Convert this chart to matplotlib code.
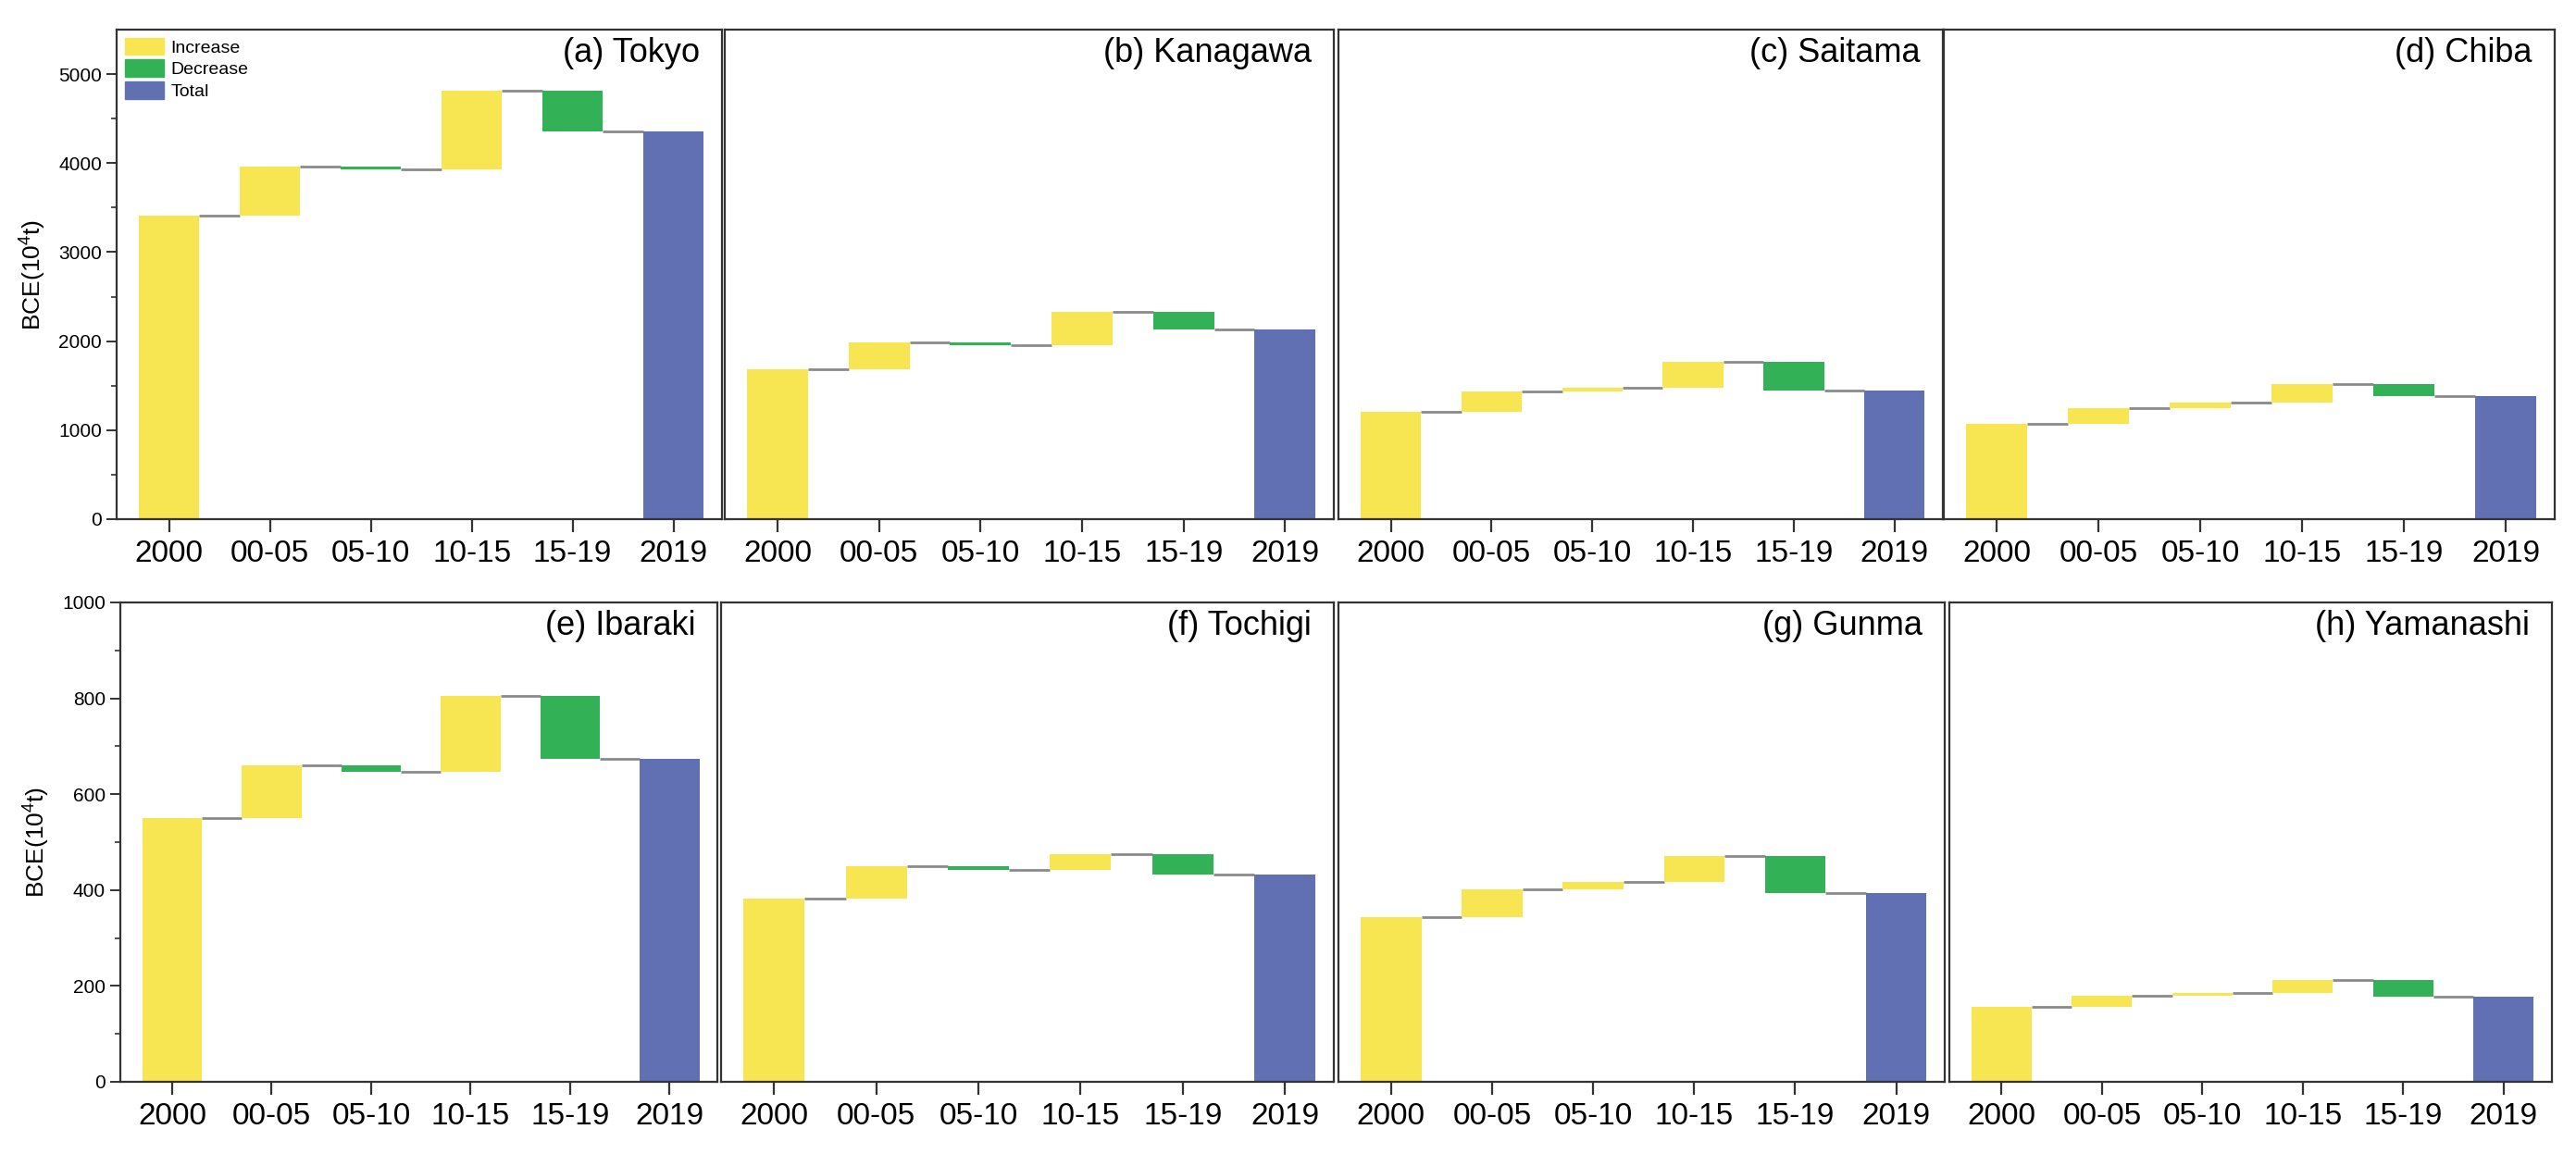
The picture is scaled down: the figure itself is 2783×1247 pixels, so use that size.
import numpy as np
import matplotlib
matplotlib.use("Agg")
import matplotlib.pyplot as plt
from matplotlib.patches import Patch

plt.rcParams["font.family"] = ["Liberation Sans", "DejaVu Sans"]
plt.rcParams["mathtext.default"] = "regular"

# Kategorier på x-aksen
kategorier = ["2000", "00-05", "05-10", "10-15", "15-19", "2019"]

# BCE-nivå (10^4 t) i 2000, 2005, 2010, 2015 og 2019 per prefektur
tokyo = [3410, 3965, 3930, 4810, 4360]
kanagawa = [1685, 1985, 1950, 2325, 2130]
saitama = [1205, 1435, 1475, 1770, 1440]
chiba = [1070, 1250, 1310, 1520, 1380]
ibaraki = [550, 661, 647, 805, 674]
tochigi = [382, 449, 443, 474, 433]
gunma = [343, 401, 417, 471, 393]
yamanashi = [157, 179, 186, 213, 177]

titler = ["(a) Tokyo", "(b) Kanagawa", "(c) Saitama", "(d) Chiba",
          "(e) Ibaraki", "(f) Tochigi", "(g) Gunma", "(h) Yamanashi"]
serier = [tokyo, kanagawa, saitama, chiba, ibaraki, tochigi, gunma, yamanashi]

GUL = "#F7E552"
GRONN = "#33B156"
BLA = "#6170B2"
LINJE = "#8a8a8a"

W, H = 2783, 1247
# panelposisjoner i piksler (venstre, høyre, topp, bunn)
posisjoner = [
    (126, 780, 32, 561), (783, 1441, 32, 561), (1446, 2099, 32, 561), (2100, 2760, 32, 561),
    (130, 775, 651, 1169), (779, 1441, 651, 1169), (1446, 2101, 651, 1169), (2106, 2757, 651, 1169),
]


def tegn_fossefall(ax, nivaa, bredde=0.6):
    x = np.arange(len(kategorier))
    # startsøyle
    ax.bar(x[0], nivaa[0], width=bredde, color=GUL, zorder=2)
    # endringer
    for i in range(len(nivaa) - 1):
        fra, til = nivaa[i], nivaa[i + 1]
        farge = GUL if til >= fra else GRONN
        ax.bar(x[i + 1], til - fra, bottom=fra, width=bredde, color=farge, zorder=2)
    # total
    ax.bar(x[-1], nivaa[-1], width=bredde, color=BLA, zorder=2)
    # forbindelseslinjer
    for i in range(len(nivaa)):
        ax.hlines(nivaa[i], x[i] + bredde / 2, x[i + 1] - bredde / 2,
                  color=LINJE, lw=2, zorder=1)
    ax.set_xticks(x)
    ax.set_xticklabels(kategorier, fontsize=24)
    ax.set_xlim(-0.52, 5.48)


fig = plt.figure(figsize=(W / 100, H / 100), dpi=100)

for k, (verdier, tittel, pos) in enumerate(zip(serier, titler, posisjoner)):
    v, h, t, b = pos
    ax = fig.add_axes([v / W, 1 - b / H, (h - v) / W, (b - t) / H])
    tegn_fossefall(ax, verdier)

    if k < 4:
        ax.set_ylim(0, 5500)
        ax.set_yticks(np.arange(0, 5001, 1000))
        ax.set_yticks(np.arange(0, 5001, 500), minor=True)
    else:
        ax.set_ylim(0, 1000)
        ax.set_yticks(np.arange(0, 1001, 200))
        ax.set_yticks(np.arange(0, 1001, 100), minor=True)

    for s in ax.spines.values():
        s.set_color("#333333")
        s.set_linewidth(1.6)
    ax.tick_params(axis="x", direction="out", length=10, width=1.6, color="#333333", pad=6)

    if k in (0, 4):
        ax.tick_params(axis="y", which="major", direction="out", length=8, width=1.4,
                       labelsize=15, color="#333333")
        ax.tick_params(axis="y", which="minor", direction="out", length=4, width=1.2,
                       color="#333333")
        ax.set_ylabel("BCE(10$^4$t)", fontsize=19, labelpad=8)
    else:
        ax.tick_params(axis="y", which="both", left=False, labelleft=False)

    ax.text(0.963, 0.985, tittel, transform=ax.transAxes, ha="right", va="top", fontsize=26)

    if k == 0:
        handles = [Patch(color=GUL, label="Increase"),
                   Patch(color=GRONN, label="Decrease"),
                   Patch(color=BLA, label="Total")]
        ax.legend(handles=handles, loc="upper left", frameon=False, fontsize=14,
                  handlelength=2.15, handleheight=1.08, labelspacing=0.2,
                  handletextpad=0.4, borderaxespad=0.25, borderpad=0.2)

fig.savefig("out.png", dpi=100)
